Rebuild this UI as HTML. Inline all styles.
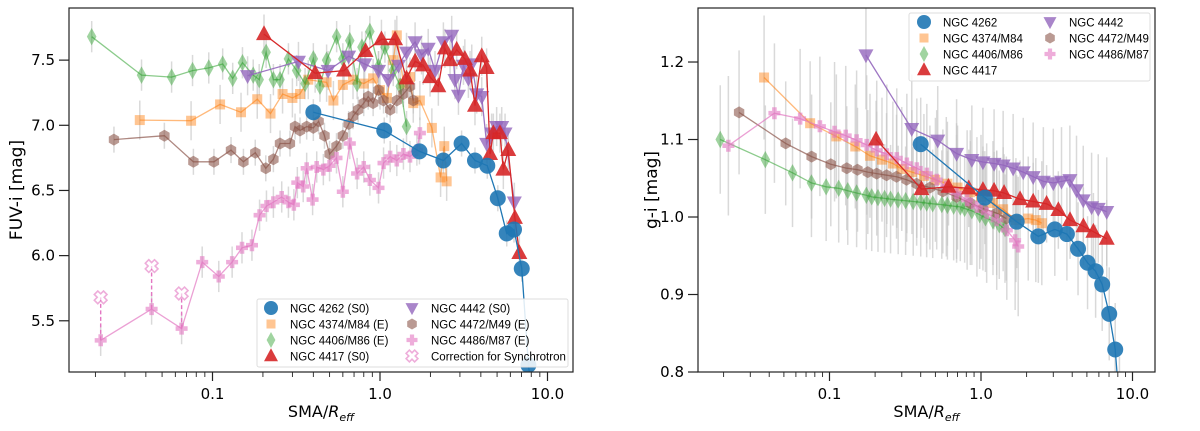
<!DOCTYPE html>
<html><head><meta charset="utf-8"><style>
html,body{margin:0;padding:0;background:#fff;}
svg{display:block;font-family:"DejaVu Sans","Liberation Sans",sans-serif;}
</style></head><body>
<svg id="fig" width="1200" height="431" viewBox="0 0 1200 431" xmlns="http://www.w3.org/2000/svg">
<defs>
<clipPath id="clipL"><rect x="69" y="8" width="504" height="364"/></clipPath>
<clipPath id="clipR"><rect x="698" y="8" width="457" height="364"/></clipPath>
</defs>
<rect width="1200" height="431" fill="#fff"/>
<g id="left"></g>
<g id="right"></g>
</svg>
<script>
// ---------- LEFT PANEL DATA (FUV-i) ----------
const L_blue_x=[0.40,1.06,1.72,2.39,3.07,3.69,4.37,5.05,5.71,6.31,7.02,7.69,8.2];
const L_blue_y=[7.10,6.96,6.80,6.73,6.86,6.73,6.69,6.44,6.17,6.20,5.90,5.16,4.9];
const L_orange_x=[0.0368,0.0745,0.111,0.148,0.185,0.222,0.262,0.30,0.333,0.373,0.48,0.527,0.60,0.69,0.80,0.91,1.0,1.10,1.2,1.26,1.38,1.51,1.58,1.73,2.04,2.3,2.42,2.5];
const L_orange_y=[7.04,7.035,7.16,7.10,7.20,7.09,7.24,7.21,7.24,7.35,7.33,7.19,7.31,7.35,7.32,7.36,7.27,7.21,7.50,7.69,7.32,7.37,7.17,7.19,6.98,6.60,6.84,6.57];
const L_green_x=[0.019,0.0377,0.057,0.076,0.095,0.115,0.132,0.151,0.175,0.19,0.209,0.231,0.253,0.284,0.318,0.357,0.40,0.438,0.48,0.551,0.60,0.66,0.73,0.78,0.87,0.98,1.07,1.2,1.32,1.44];
const L_green_y=[7.68,7.385,7.37,7.42,7.44,7.47,7.36,7.48,7.385,7.35,7.56,7.35,7.35,7.51,7.42,7.32,7.51,7.30,7.50,7.68,7.51,7.65,7.32,7.60,7.72,7.45,7.60,7.42,7.30,6.99];
const L_red_x=[0.203,0.41,0.61,0.82,1.02,1.23,1.44,1.62,1.81,1.99,2.23,2.44,2.62,2.87,3.21,3.45,3.69,4.05,4.33,4.54,4.75,5.20,5.45,5.83,6.39,6.79];
const L_red_y=[7.70,7.40,7.42,7.57,7.66,7.66,7.36,7.49,7.46,7.37,7.30,7.59,7.50,7.58,7.51,7.42,7.15,7.53,7.44,6.78,6.94,6.94,6.66,6.81,6.29,6.02];
const L_purple_x=[0.162,0.326,0.49,0.65,0.81,0.98,1.12,1.29,1.44,1.62,1.77,1.94,2.13,2.39,2.68,2.80,2.94,3.15,3.37,3.53,3.78,4.05,4.33,4.64,4.97,5.33,5.58,6.34];
const L_purple_y=[7.38,7.49,7.42,7.53,7.47,7.42,7.35,7.46,7.56,7.64,7.54,7.59,7.42,7.64,7.69,7.35,7.23,7.46,7.36,7.47,7.24,7.22,6.86,6.94,6.99,6.99,6.94,6.41];
const L_brown_x=[0.0258,0.0516,0.0769,0.102,0.129,0.153,0.18,0.208,0.231,0.253,0.29,0.311,0.333,0.365,0.40,0.43,0.466,0.50,0.55,0.60,0.65,0.69,0.74,0.80,0.85,0.91,0.98,1.05,1.15,1.26,1.38,1.51,1.58];
const L_brown_y=[6.89,6.92,6.72,6.72,6.81,6.72,6.79,6.67,6.74,6.86,6.86,6.99,6.96,6.99,6.98,7.03,6.92,6.78,6.84,6.92,7.01,7.07,7.12,7.17,7.22,7.17,7.27,7.19,7.12,7.19,7.24,7.30,7.19];
const L_pink_x=[0.0215,0.0433,0.0654,0.0868,0.109,0.131,0.15,0.172,0.191,0.21,0.231,0.259,0.284,0.306,0.321,0.348,0.365,0.396,0.419,0.459,0.50,0.55,0.60,0.66,0.73,0.80,0.87,0.98,1.05,1.15,1.26,1.38,1.51,1.66,1.73];
const L_pink_y=[5.35,5.59,5.44,5.95,5.84,5.95,6.06,6.08,6.31,6.38,6.41,6.45,6.41,6.39,6.56,6.53,6.67,6.43,6.68,6.66,6.69,6.75,6.49,6.86,6.63,6.68,6.58,6.52,6.71,6.76,6.73,6.78,6.76,6.81,6.94];
const L_corr_x=[0.0215,0.0433,0.0654];
const L_corr_y=[5.68,5.92,5.71];
const L_yticks=[5.5,6.0,6.5,7.0,7.5];
const L_ytickLabels=["5.5","6.0","6.5","7.0","7.5"];
// ---------- RIGHT PANEL DATA (g-i) ----------
const R_blue_x=[0.40,1.06,1.72,2.39,3.07,3.69,4.37,5.05,5.71,6.31,7.02,7.69,8.2];
const R_blue_y=[1.094,1.025,0.994,0.975,0.984,0.978,0.959,0.941,0.930,0.913,0.875,0.829,0.76];
const R_orange_x=[0.037,0.0745,0.111,0.148,0.185,0.222,0.262,0.30,0.35,0.42,0.5,0.6,0.7,0.85,1.0,1.2,1.4,1.7,2.05,2.3,2.52];
const R_orange_y=[1.18,1.121,1.104,1.091,1.079,1.074,1.069,1.062,1.058,1.053,1.048,1.043,1.038,1.032,1.026,1.018,1.010,0.996,0.998,0.996,0.992];
const R_green_x=[0.019,0.0377,0.057,0.076,0.095,0.115,0.132,0.151,0.175,0.19,0.209,0.231,0.253,0.284,0.318,0.357,0.40,0.438,0.48,0.551,0.60,0.66,0.73,0.78,0.87,0.98,1.07,1.2,1.32,1.44];
const R_green_y=[1.100,1.074,1.057,1.044,1.039,1.037,1.034,1.031,1.028,1.026,1.025,1.024,1.023,1.022,1.021,1.020,1.019,1.018,1.017,1.016,1.015,1.014,1.013,1.011,1.008,1.003,0.999,0.995,0.990,0.985];
const R_red_x=[0.203,0.405,0.61,0.83,1.03,1.22,1.42,1.81,2.21,2.71,3.24,3.87,4.74,5.52,6.76];
const R_red_y=[1.100,1.036,1.039,1.037,1.035,1.034,1.031,1.023,1.020,1.017,1.009,0.996,0.988,0.981,0.972];
const R_purple_x=[0.174,0.349,0.518,0.69,0.87,1.03,1.22,1.40,1.63,1.90,2.21,2.58,3.00,3.40,3.86,4.27,4.73,5.37,5.94,6.76];
const R_purple_y=[1.209,1.114,1.099,1.082,1.074,1.071,1.069,1.067,1.063,1.058,1.052,1.046,1.044,1.046,1.048,1.035,1.022,1.013,1.011,1.007];
const R_brown_x=[0.0253,0.0514,0.0762,0.102,0.13,0.153,0.179,0.205,0.238,0.277,0.323,0.376,0.46,0.56,0.69,0.85,1.03,1.27,1.47];
const R_brown_y=[1.135,1.095,1.078,1.068,1.063,1.061,1.058,1.056,1.054,1.052,1.048,1.043,1.038,1.033,1.026,1.018,1.011,1.005,0.998];
const R_pink_x=[0.0215,0.0433,0.064,0.0864,0.108,0.128,0.151,0.176,0.205,0.239,0.278,0.324,0.377,0.439,0.51,0.59,0.69,0.81,0.94,1.09,1.27,1.48,1.68,1.76];
const R_pink_y=[1.092,1.134,1.127,1.117,1.110,1.105,1.099,1.093,1.086,1.081,1.076,1.069,1.063,1.056,1.048,1.039,1.031,1.022,1.013,1.005,0.996,0.983,0.970,0.962];
const R_yticks=[0.8,0.9,1.0,1.1,1.2];
const R_ytickLabels=["0.8","0.9","1.0","1.1","1.2"];
const xticks=[0.1,1.0,10.0];
const xtickLabels=["0.1","1.0","10.0"];

const NS="http://www.w3.org/2000/svg";
function mk(tag,attrs,parent){const e=document.createElementNS(NS,tag);for(const k in attrs)e.setAttribute(k,attrs[k]);parent.appendChild(e);return e;}

const C={blue:"#1f77b4",orange:"#ff7f0e",green:"#2ca02c",red:"#d62728",purple:"#9467bd",brown:"#8c564b",pink:"#e377c2"};

function marker(g,shape,cx,cy,col,op,s){
  let e;
  if(shape==="o"){e=mk("circle",{cx:cx,cy:cy,r:s},g);}
  else if(shape==="s"){e=mk("rect",{x:cx-s,y:cy-s,width:2*s,height:2*s},g);}
  else if(shape==="d"){e=mk("polygon",{points:`${cx},${cy-s*1.45} ${cx+s*0.8},${cy} ${cx},${cy+s*1.45} ${cx-s*0.8},${cy}`},g);}
  else if(shape==="^"){e=mk("polygon",{points:`${cx},${cy-s*1.1} ${cx+s},${cy+s*0.75} ${cx-s},${cy+s*0.75}`},g);}
  else if(shape==="v"){e=mk("polygon",{points:`${cx},${cy+s*1.1} ${cx+s},${cy-s*0.75} ${cx-s},${cy-s*0.75}`},g);}
  else if(shape==="h"){let p=[];for(let i=0;i<6;i++){const a=Math.PI/3*i+Math.PI/6;p.push((cx+s*Math.cos(a)).toFixed(1)+","+(cy+s*Math.sin(a)).toFixed(1));}e=mk("polygon",{points:p.join(" ")},g);}
  else if(shape==="P"||shape==="X"){const w=s*0.38;let pts=[[-w,-s],[w,-s],[w,-w],[s,-w],[s,w],[w,w],[w,s],[-w,s],[-w,w],[-s,w],[-s,-w],[-w,-w]];
    if(shape==="X"){const r=Math.SQRT1_2;pts=pts.map(([x,y])=>[(x-y)*r,(x+y)*r]);}
    e=mk("polygon",{points:pts.map(([x,y])=>(cx+x).toFixed(1)+","+(cy+y).toFixed(1)).join(" ")},g);
    if(shape==="X"){e.setAttribute("fill","#fff");e.setAttribute("stroke",col);e.setAttribute("stroke-width","1.6");e.setAttribute("opacity",op);return e;}
  }
  e.setAttribute("fill",col);e.setAttribute("opacity",op);
  return e;
}

function panel(gid,clip,x0,x1,y0,y1,vmin,vmax,dec0px,decpx,yt,ytl,ylabel,series,errs,legend){
  const g=document.getElementById(gid);
  const sx=v=>dec0px+decpx*Math.log10(v);
  const sy=v=>y1-(v-vmin)/(vmax-vmin)*(y1-y0);
  const plot=mk("g",{"clip-path":`url(#${clip})`},g);
  
  
  const eg=mk("g",{stroke:"#c4c4c4","stroke-opacity":"0.65","stroke-width":"1.5"},plot);
  
  
  series.forEach((s,i)=>{s.x.forEach((xv,j)=>{const e=errs[i];mk("line",{x1:sx(xv),x2:sx(xv),y1:sy(s.y[j]-e),y2:sy(s.y[j]+e)},eg);});});
  series.forEach(s=>{
    const sg=mk("g",{},plot);
    
    
    mk("polyline",{points:s.x.map((xv,j)=>sx(xv).toFixed(1)+","+sy(s.y[j]).toFixed(1)).join(" "),fill:"none",stroke:C[s.c],"stroke-width":"1.3","stroke-opacity":Math.min(1,s.op+0.1)},sg);
    s.x.forEach((xv,j)=>{const m=marker(sg,s.m,sx(xv),sy(s.y[j]),C[s.c],s.op,s.sz);
      
      });
    if(s.corr){s.corr.x.forEach((xv,j)=>{
      mk("line",{x1:sx(xv),x2:sx(xv),y1:sy(s.y[j]),y2:sy(s.corr.y[j]),stroke:C[s.c],"stroke-width":"1.4","stroke-dasharray":"4,2.5"},sg);
      const m=marker(sg,"X",sx(xv),sy(s.corr.y[j]),C[s.c],0.6,6.5);
      
      });}
  });
  const fr=mk("rect",{x:x0,y:y0,width:x1-x0,height:y1-y0,fill:"none",stroke:"#222","stroke-width":"1.2"},g);
  
  
  const xg=mk("g",{},g);
  
  
  for(let d=-2;d<=1;d++){for(let k=1;k<10;k++){const v=k*Math.pow(10,d);const px=sx(v);if(px<x0||px>x1)continue;
    mk("line",{x1:px,x2:px,y1:y1,y2:y1+(k===1?9:5),stroke:"#222","stroke-width":k===1?1.2:0.9},xg);}}
  xticks.forEach((v,i)=>{const t=mk("text",{x:sx(v),y:y1+27,"text-anchor":"middle","font-size":"15",fill:"#000"},xg);t.textContent=xtickLabels[i];});
  const xl=mk("text",{x:(x0+x1)/2,y:y1+45,"text-anchor":"middle","font-size":"16",fill:"#000"},g);
  
  
  xl.innerHTML='SMA/<tspan font-style="italic">R</tspan><tspan font-style="italic" font-size="11" dy="4">eff</tspan>';
  const yg=mk("g",{},g);
  
  
  yt.forEach((v,i)=>{const py=sy(v);mk("line",{x1:x0-10,x2:x0,y1:py,y2:py,stroke:"#222","stroke-width":"1.2"},yg);
    const t=mk("text",{x:x0-14,y:py+5,"text-anchor":"end","font-size":"15",fill:"#000"},yg);t.textContent=ytl[i];});
  const yl=mk("text",{x:ylabel.x,y:(y0+y1)/2,"text-anchor":"middle","font-size":"17",fill:"#000",transform:`rotate(-90 ${ylabel.x} ${(y0+y1)/2})`},g);
  
  
  yl.textContent=ylabel.t;
  const lg=mk("g",{},g);
  
  
  mk("rect",{x:legend.x,y:legend.y,width:legend.w,height:legend.h,rx:2,fill:"#fff","fill-opacity":"0.85",stroke:"#ddd"},lg);
  legend.items.forEach(it=>{
    const eg2=mk("g",{},lg);
    
    
    const mx=legend.x+legend.cols[it.col], my=legend.y+9+it.row*16;
    marker(eg2,it.m,mx,my,C[it.c],it.op,it.sz);
    const t=mk("text",{x:mx+19,y:my+4.5,"font-size":"11.5","font-family":"Liberation Sans, sans-serif",fill:"#000"},eg2);t.textContent=it.label;
  });
}

const leftSeries=[
 {name:"NGC 4374",x:L_orange_x,y:L_orange_y,c:"orange",m:"s",op:0.45,sz:5},
 {name:"NGC 4406",x:L_green_x,y:L_green_y,c:"green",m:"d",op:0.45,sz:6},
 {name:"NGC 4472",x:L_brown_x,y:L_brown_y,c:"brown",m:"h",op:0.6,sz:6},
 {name:"NGC 4486",x:L_pink_x,y:L_pink_y,c:"pink",m:"P",op:0.6,sz:6,corr:{x:L_corr_x,y:L_corr_y}},
 {name:"NGC 4442",x:L_purple_x,y:L_purple_y,c:"purple",m:"v",op:0.8,sz:7.5},
 {name:"NGC 4417",x:L_red_x,y:L_red_y,c:"red",m:"^",op:0.9,sz:8},
 {name:"NGC 4262",x:L_blue_x,y:L_blue_y,c:"blue",m:"o",op:0.9,sz:8}
];
panel("left","clipL",69,573,8,372,5.107,7.9,380,167.5,L_yticks,L_ytickLabels,{x:22,t:"FUV-i [mag]"},leftSeries,[0.15,0.12,0.1,0.12,0.15,0.15,0.1],
 {x:257,y:299,w:311,h:68,cols:[14,155],items:[
  {label:"NGC 4262 (S0)",c:"blue",m:"o",op:0.9,sz:7,col:0,row:0},
  {label:"NGC 4374/M84 (E)",c:"orange",m:"s",op:0.45,sz:4.5,col:0,row:1},
  {label:"NGC 4406/M86 (E)",c:"green",m:"d",op:0.45,sz:5.5,col:0,row:2},
  {label:"NGC 4417 (S0)",c:"red",m:"^",op:0.9,sz:7,col:0,row:3},
  {label:"NGC 4442 (S0)",c:"purple",m:"v",op:0.8,sz:6.5,col:1,row:0},
  {label:"NGC 4472/M49 (E)",c:"brown",m:"h",op:0.6,sz:5.5,col:1,row:1},
  {label:"NGC 4486/M87 (E)",c:"pink",m:"P",op:0.6,sz:5.5,col:1,row:2},
  {label:"Correction for Synchrotron",c:"pink",m:"X",op:0.6,sz:6,col:1,row:3}]});

const rightSeries=[
 {name:"NGC 4374",x:R_orange_x,y:R_orange_y,c:"orange",m:"s",op:0.45,sz:5},
 {name:"NGC 4406",x:R_green_x,y:R_green_y,c:"green",m:"d",op:0.45,sz:6},
 {name:"NGC 4472",x:R_brown_x,y:R_brown_y,c:"brown",m:"h",op:0.6,sz:6},
 {name:"NGC 4486",x:R_pink_x,y:R_pink_y,c:"pink",m:"P",op:0.6,sz:6},
 {name:"NGC 4442",x:R_purple_x,y:R_purple_y,c:"purple",m:"v",op:0.8,sz:7.5},
 {name:"NGC 4417",x:R_red_x,y:R_red_y,c:"red",m:"^",op:0.9,sz:8},
 {name:"NGC 4262",x:R_blue_x,y:R_blue_y,c:"blue",m:"o",op:0.9,sz:8}
];
panel("right","clipR",698,1155,8,372,0.8,1.2697,981,151.5,R_yticks,R_ytickLabels,{x:657,t:"g-i [mag]"},rightSeries,[0.08,0.07,0.08,0.09,0.07,0.05,0.06],
 {x:909,y:13,w:241,h:68,cols:[15,141],items:[
  {label:"NGC 4262",c:"blue",m:"o",op:0.9,sz:7,col:0,row:0},
  {label:"NGC 4374/M84",c:"orange",m:"s",op:0.45,sz:4.5,col:0,row:1},
  {label:"NGC 4406/M86",c:"green",m:"d",op:0.45,sz:5.5,col:0,row:2},
  {label:"NGC 4417",c:"red",m:"^",op:0.9,sz:7,col:0,row:3},
  {label:"NGC 4442",c:"purple",m:"v",op:0.8,sz:6.5,col:1,row:0},
  {label:"NGC 4472/M49",c:"brown",m:"h",op:0.6,sz:5.5,col:1,row:1},
  {label:"NGC 4486/M87",c:"pink",m:"P",op:0.6,sz:5.5,col:1,row:2}]});
</script>
</body></html>
